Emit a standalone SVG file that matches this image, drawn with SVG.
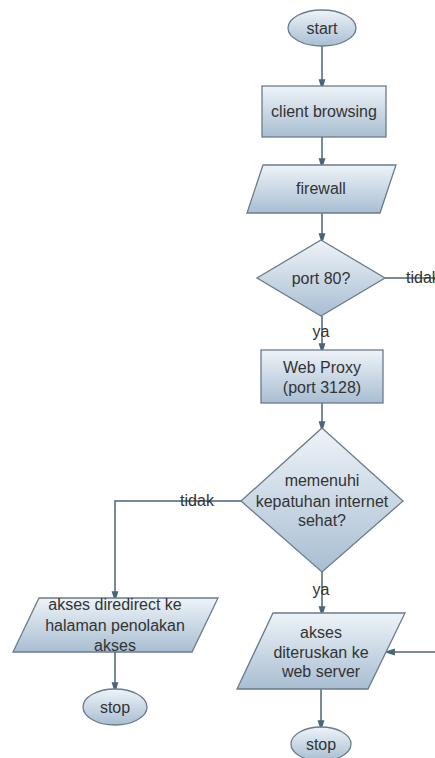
<svg xmlns="http://www.w3.org/2000/svg" width="435" height="758" viewBox="0 0 435 758">
<defs>
<linearGradient id="g" x1="0" y1="0" x2="0" y2="1">
<stop offset="0" stop-color="#eef3f8"/>
<stop offset="1" stop-color="#a8bed2"/>
</linearGradient>
<marker id="a" markerWidth="11" markerHeight="16" refX="10" refY="5" orient="auto" markerUnits="userSpaceOnUse" viewBox="0 0 16 10">
<path d="M0,0 L16,5 L0,10 Z" fill="#4a6478"/>
</marker>
<style>
.s{fill:url(#g);stroke:#6a7c8c;stroke-width:1.3}
.t{font-family:"Liberation Sans",Arial,sans-serif;font-size:16px;fill:#333;text-anchor:middle}
.c{fill:none;stroke:#4a6478;stroke-width:1.5}
</style>
</defs>
<g id="connectors">
<line class="c" x1="322" y1="46" x2="322" y2="86" marker-end="url(#a)"/>
<line class="c" x1="322" y1="137" x2="322" y2="165" marker-end="url(#a)"/>
<line class="c" x1="322" y1="213" x2="322" y2="240" marker-end="url(#a)"/>
<line class="c" x1="385" y1="278" x2="435" y2="278"/>
<line class="c" x1="322" y1="316" x2="322" y2="350" marker-end="url(#a)"/>
<line class="c" x1="322" y1="403" x2="322" y2="428" marker-end="url(#a)"/>
<polyline class="c" points="241,501 115,501 115,598" marker-end="url(#a)"/>
<line class="c" x1="322" y1="572" x2="322" y2="613" marker-end="url(#a)"/>
<line class="c" x1="115" y1="652" x2="115" y2="689" marker-end="url(#a)"/>
<line class="c" x1="435" y1="652" x2="388" y2="652" marker-end="url(#a)"/>
<line class="c" x1="321" y1="689" x2="321" y2="727" marker-end="url(#a)"/>
<text class="t" x="406" y="283" style="text-anchor:start">tidak</text>
<text class="t" x="321" y="337">ya</text>
<text class="t" x="197" y="506">tidak</text>
<text class="t" x="321" y="595">ya</text>
</g>
<g id="start">
<ellipse class="s" cx="322" cy="28" rx="34" ry="18"/>
<text class="t" x="322" y="34">start</text>
</g>
<g id="client">
<rect class="s" x="262" y="86" width="124" height="51"/>
<text class="t" x="324" y="117">client browsing</text>
</g>
<g id="firewall">
<polygon class="s" points="263,165 396,165 380,213 247,213"/>
<text class="t" x="321" y="194">firewall</text>
</g>
<g id="port80">
<polygon class="s" points="321,240 385,278 321,316 257,278"/>
<text class="t" x="321" y="284">port 80?</text>
</g>
<g id="proxy">
<rect class="s" x="261" y="350" width="122" height="53"/>
<text class="t" x="322" y="373">Web Proxy</text>
<text class="t" x="322" y="393">(port 3128)</text>
</g>
<g id="cek">
<polygon class="s" points="322,428 403,501 322,572 241,501"/>
<text class="t" x="322" y="486">memenuhi</text>
<text class="t" x="322" y="507">kepatuhan internet</text>
<text class="t" x="322" y="526">sehat?</text>
</g>
<g id="redirect">
<polygon class="s" points="39,598 218,598 192,652 13,652"/>
<text class="t" x="115" y="610">akses diredirect ke</text>
<text class="t" x="115" y="631">halaman penolakan</text>
<text class="t" x="115" y="651">akses</text>
</g>
<g id="stop1">
<ellipse class="s" cx="115" cy="707" rx="32" ry="18"/>
<text class="t" x="115" y="713">stop</text>
</g>
<g id="teruskan">
<polygon class="s" points="273,613 405,613 368,689 237,689"/>
<text class="t" x="321" y="638">akses</text>
<text class="t" x="321" y="658">diteruskan ke</text>
<text class="t" x="321" y="677">web server</text>
</g>
<g id="stop2">
<ellipse class="s" cx="321" cy="744" rx="30" ry="17"/>
<text class="t" x="321" y="750">stop</text>
</g>
</svg>
